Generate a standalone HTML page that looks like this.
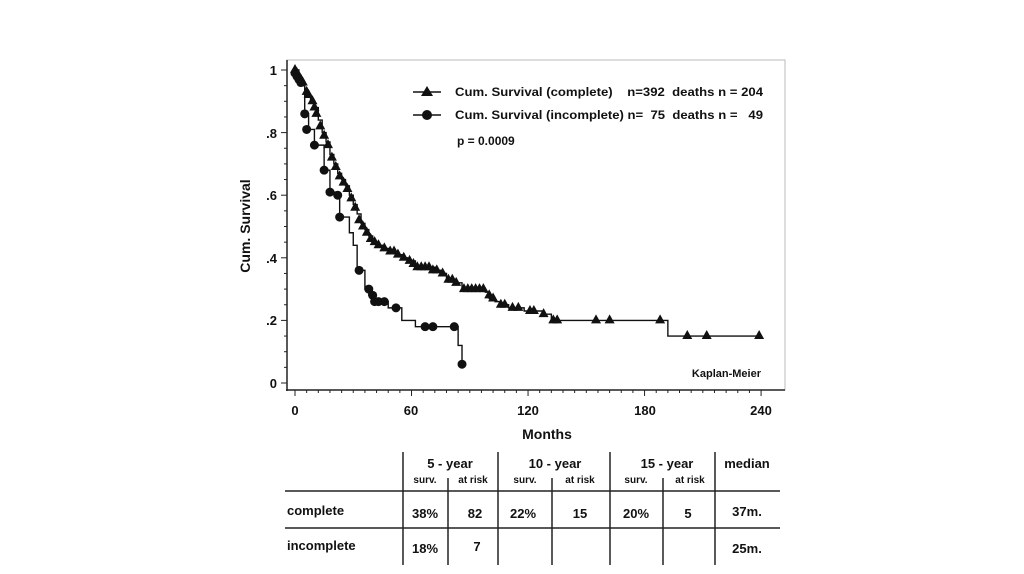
<!DOCTYPE html><html><head><style>body{margin:0;background:#fff}svg{display:block}text{font-family:"Liberation Sans",Arial,sans-serif;font-weight:bold;fill:#111;white-space:pre}</style></head><body>
<svg id="s" width="1024" height="574" viewBox="0 0 1024 574">
<rect x="287" y="60" width="498" height="330" fill="none" stroke="#bbb" stroke-width="1"/>
<line x1="287" y1="60" x2="287" y2="391" stroke="#222" stroke-width="1.5"/>
<line x1="286" y1="390" x2="785" y2="390" stroke="#222" stroke-width="1.5"/>
<g font-size="13">
<text x="277" y="75" text-anchor="end">1</text>
<text x="277" y="138" text-anchor="end">.8</text>
<text x="277" y="200" text-anchor="end">.6</text>
<text x="277" y="263" text-anchor="end">.4</text>
<text x="277" y="325" text-anchor="end">.2</text>
<text x="277" y="388" text-anchor="end">0</text>
<text x="295" y="415" text-anchor="middle">0</text>
<text x="411" y="415" text-anchor="middle">60</text>
<text x="528" y="415" text-anchor="middle">120</text>
<text x="645" y="415" text-anchor="middle">180</text>
<text x="761" y="415" text-anchor="middle">240</text>
<text x="547" y="439" text-anchor="middle" font-size="14">Months</text>
<text transform="translate(250,226) rotate(-90)" text-anchor="middle" font-size="14">Cum. Survival</text>
</g>
<g font-size="12">
<line x1="413" y1="92" x2="441" y2="92" stroke="#111" stroke-width="1.5"/><polygon points="427,86 433,96 421,96" fill="#111"/>
<text x="455" y="96" textLength="308" lengthAdjust="spacingAndGlyphs">Cum. Survival (complete)    n=392  deaths n = 204</text>
<line x1="413" y1="115" x2="441" y2="115" stroke="#111" stroke-width="1.5"/><circle cx="427" cy="115" r="5" fill="#111"/>
<text x="455" y="119" textLength="308" lengthAdjust="spacingAndGlyphs">Cum. Survival (incomplete) n=  75  deaths n =   49</text>
<text x="457" y="145">p = 0.0009</text>
<text x="761" y="377" text-anchor="end" font-size="11">Kaplan-Meier</text>
</g>
<g id="g"></g>
<g stroke="#222" stroke-width="1.5">
<line x1="285" y1="491" x2="780" y2="491"/><line x1="285" y1="528" x2="780" y2="528"/>
<line x1="403" y1="452" x2="403" y2="565"/><line x1="448" y1="478" x2="448" y2="565"/>
<line x1="498" y1="452" x2="498" y2="565"/><line x1="552" y1="478" x2="552" y2="565"/>
<line x1="610" y1="452" x2="610" y2="565"/><line x1="663" y1="478" x2="663" y2="565"/>
<line x1="715" y1="452" x2="715" y2="565"/>
</g>
<g font-size="13">
<text x="450" y="468" text-anchor="middle">5 - year</text>
<text x="555" y="468" text-anchor="middle">10 - year</text>
<text x="667" y="468" text-anchor="middle">15 - year</text>
<text x="747" y="468" text-anchor="middle">median</text>
<text x="287" y="515">complete</text><text x="287" y="550">incomplete</text>
<text x="425" y="518" text-anchor="middle">38%</text><text x="475" y="518" text-anchor="middle">82</text>
<text x="523" y="518" text-anchor="middle">22%</text><text x="580" y="518" text-anchor="middle">15</text>
<text x="636" y="518" text-anchor="middle">20%</text><text x="688" y="518" text-anchor="middle">5</text>
<text x="747" y="516" text-anchor="middle">37m.</text>
<text x="425" y="553" text-anchor="middle">18%</text><text x="477" y="551" text-anchor="middle">7</text>
<text x="747" y="553" text-anchor="middle">25m.</text>
</g>
<g font-size="10">
<text x="425" y="483" text-anchor="middle">surv.</text><text x="473" y="483" text-anchor="middle">at risk</text>
<text x="525" y="483" text-anchor="middle">surv.</text><text x="580" y="483" text-anchor="middle">at risk</text>
<text x="636" y="483" text-anchor="middle">surv.</text><text x="690" y="483" text-anchor="middle">at risk</text>
</g>
</svg>
<script>
var X=m=>295+m*1.942,Y=v=>383-v*313,g=document.getElementById('g'),h='';
for(var i=0;i<=240;i+=6){var big=i%60==0;h+='<line x1="'+X(i)+'" y1="390" x2="'+X(i)+'" y2="'+(big?396:393)+'" stroke="#222"/>';}
for(var v=0;v<=1.001;v+=0.05){var b=Math.round(v*100)%20==0;h+='<line x1="'+(b?281:284)+'" y1="'+Y(v)+'" x2="287" y2="'+Y(v)+'" stroke="#222"/>';}
function step(p){var d='M'+X(p[0][0])+','+Y(p[0][1]);for(var i=1;i<p.length;i++){d+='H'+X(p[i][0])+'V'+Y(p[i][1]);}return d;}
var c=[[0,1],[1,.98],[2,.97],[3,.96],[4,.95],[5,.93],[6,.92],[8,.9],[10,.88],[12,.84],[14,.8],[16,.77],[18,.73],[20,.7],[22,.67],[24,.65],[26,.63],[28,.6],[30,.57],[32,.54],[34,.51],[36,.49],[38,.47],[40,.45],[42,.44],[45,.43],[48,.42],[52,.41],[55,.4],[58,.39],[62,.37],[72,.36],[75,.35],[78,.33],[82,.32],[86,.3],[98,.29],[100,.27],[103,.26],[106,.25],[110,.24],[118,.23],[128,.22],[132,.2],[192,.2],[192,.15],[240,.15]];
var ic=[[0,1],[2,.97],[4,.95],[5,.86],[7,.81],[10,.76],[15,.68],[18,.61],[22,.6],[23,.53],[28,.48],[30,.44],[32,.36],[36,.3],[38,.28],[40,.26],[46,.26],[48,.24],[55,.2],[62,.18],[82,.18],[84,.12],[86,.06]];
h+='<path d="'+step(c)+'" fill="none" stroke="#111" stroke-width="1.4"/>';
h+='<path d="'+step(ic)+'" fill="none" stroke="#111" stroke-width="1.4"/>';
function tri(x,y){return '<polygon points="'+X(x)+','+(Y(y)-6)+' '+(X(x)+5)+','+(Y(y)+3)+' '+(X(x)-5)+','+(Y(y)+3)+'" fill="#111"/>';}
var ct=[[0,1],[1,.99],[2,.98],[3,.97],[4,.96],[6,.93],[7,.92],[9,.9],[10,.88],[11,.86],[13,.82],[15,.79],[17,.76],[19,.72],[21,.69],[23,.66],[25,.64],[27,.62],[29,.59],[31,.56],[33,.52],[35,.5],[37,.48],[39,.46],[41,.45],[43,.44],[46,.43],[49,.42],[51,.42],[53,.41],[56,.4],[59,.39],[61,.38],[63,.37],[65,.37],[67,.37],[69,.37],[71,.36],[73,.36],[76,.35],[79,.33],[81,.33],[83,.32],[87,.3],[89,.3],[91,.3],[93,.3],[95,.3],[97,.3],[100,.28],[102,.27],[106,.25],[108,.25],[112,.24],[115,.24],[121,.23],[123,.23],[128,.22],[133,.2],[135,.2],[155,.2],[162,.2],[188,.2],[202,.15],[212,.15],[239,.15]];
ct.forEach(p=>h+=tri(p[0],p[1]));
[[0,.99],[1,.98],[2,.97],[3,.96],[5,.86],[6,.81],[10,.76],[15,.68],[18,.61],[22,.6],[23,.53],[33,.36],[38,.3],[40,.28],[41,.26],[43,.26],[46,.26],[52,.24],[67,.18],[71,.18],[82,.18],[86,.06]].forEach(p=>h+='<circle cx="'+X(p[0])+'" cy="'+Y(p[1])+'" r="4.5" fill="#111"/>');
g.innerHTML=h;
</script></body></html>
